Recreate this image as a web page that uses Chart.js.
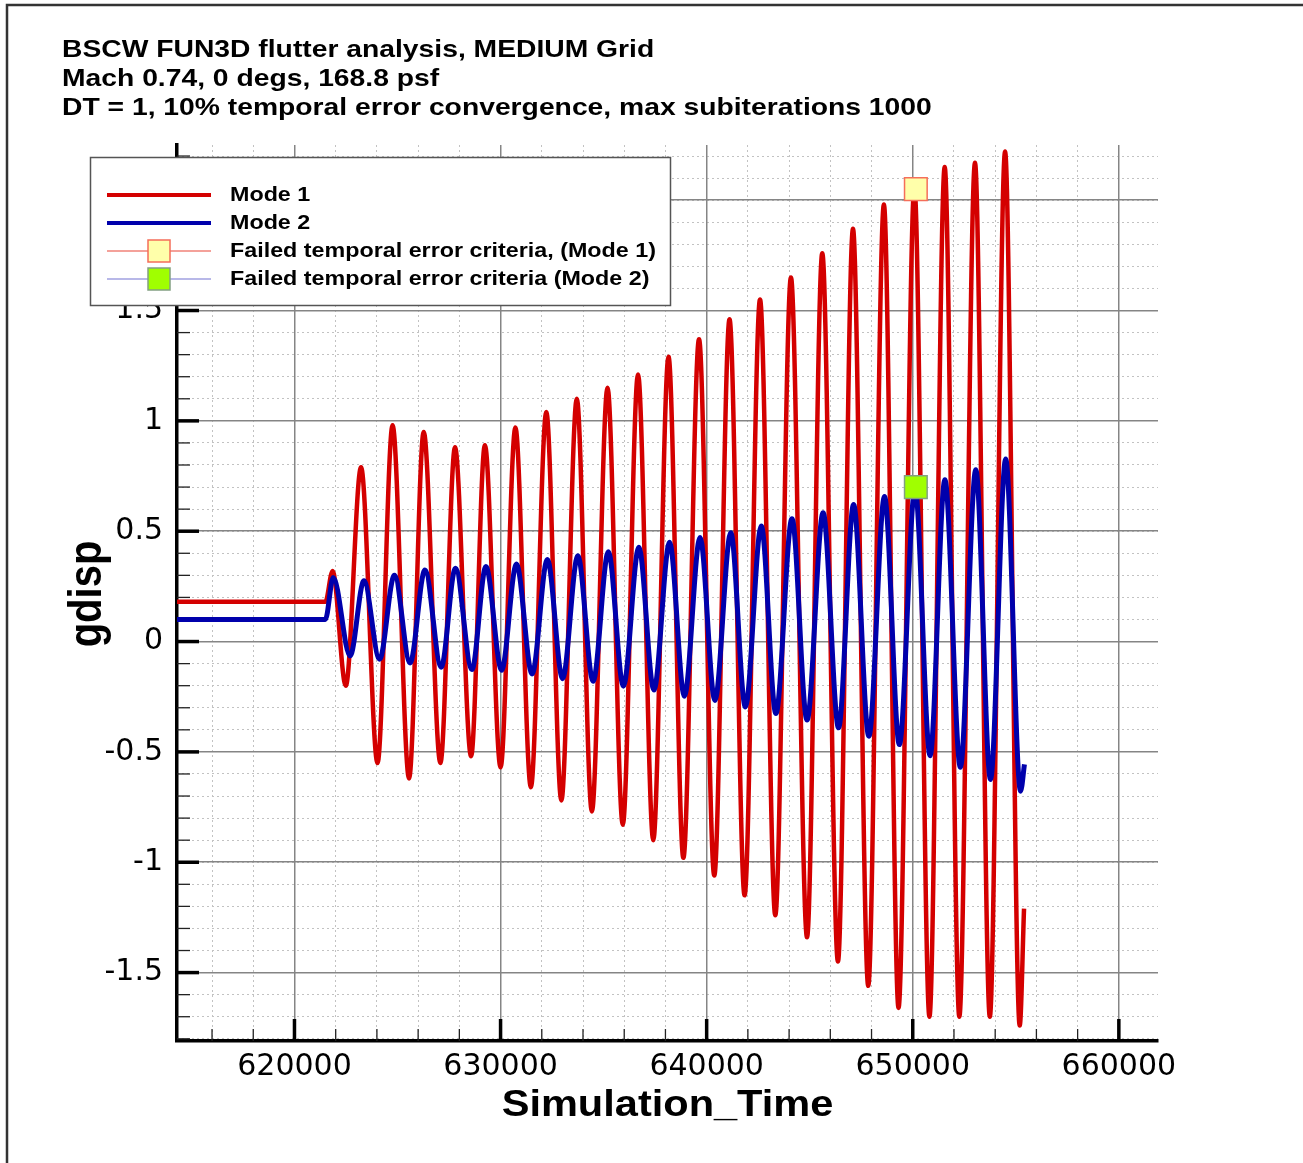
<!DOCTYPE html>
<html>
<head>
<meta charset="utf-8">
<script src="https://cdn.jsdelivr.net/npm/chart.js@4.4.1/dist/chart.umd.min.js"></script>
<style>
  html, body { margin: 0; padding: 0; background: #fff; }
  canvas { display: block; }
</style>
</head>
<body>
<canvas id="chart" width="1303" height="1163"></canvas>
<script>
const titleLines = [
    "BSCW FUN3D flutter analysis, MEDIUM Grid",
    "Mach 0.74, 0 degs, 168.8 psf",
    "DT = 1, 10% temporal error convergence, max subiterations 1000",
];
const seriesNames = ["Mode 1", "Mode 2", "Failed temporal error criteria, (Mode 1)", "Failed temporal error criteria (Mode 2)"];
const xTitle = "Simulation_Time";
const yTitle = "gdisp";

const xTicks = [620000, 630000, 640000, 650000, 660000];
const yTicks = [-1.5, -1, -0.5, 0, 0.5, 1, 1.5, 2];

// peaks and troughs of each mode
const mode1Time = [614300, 621500, 621850, 622490, 623230, 624030, 624760, 625560, 626270, 627080, 627790, 628570, 629240, 630000, 630720, 631470, 632220, 632950, 633700, 634430, 635190, 635930, 636670, 637410, 638150, 638870, 639630, 640370, 641110, 641840, 642590, 643330, 644090, 644870, 645610, 646370, 647100, 647840, 648600, 649310, 650080, 650810, 651550, 652260, 653020, 653740, 654480, 655190, 655400];
const mode1Disp = [0.18, 0.18, 0.32, -0.20, 0.79, -0.55, 0.98, -0.62, 0.95, -0.55, 0.88, -0.52, 0.89, -0.57, 0.97, -0.66, 1.04, -0.72, 1.10, -0.77, 1.15, -0.83, 1.21, -0.90, 1.29, -0.98, 1.37, -1.06, 1.46, -1.15, 1.55, -1.24, 1.65, -1.34, 1.76, -1.45, 1.87, -1.56, 1.98, -1.66, 2.06, -1.70, 2.15, -1.70, 2.17, -1.70, 2.22, -1.74, -1.21];

const mode2Time = [614300, 621500, 621880, 622700, 623370, 624130, 624850, 625610, 626330, 627120, 627810, 628610, 629290, 630050, 630770, 631530, 632270, 633010, 633750, 634490, 635230, 635960, 636710, 637440, 638200, 638920, 639680, 640400, 641170, 641880, 642650, 643360, 644140, 644870, 645650, 646400, 647130, 647870, 648630, 649350, 650110, 650840, 651560, 652310, 653060, 653770, 654510, 655230, 655420];
const mode2Disp = [0.10, 0.10, 0.29, -0.065, 0.275, -0.08, 0.30, -0.097, 0.324, -0.116, 0.332, -0.127, 0.34, -0.13, 0.351, -0.147, 0.372, -0.168, 0.389, -0.18, 0.407, -0.202, 0.427, -0.22, 0.45, -0.248, 0.472, -0.267, 0.493, -0.296, 0.524, -0.326, 0.557, -0.356, 0.584, -0.391, 0.621, -0.429, 0.657, -0.467, 0.695, -0.517, 0.733, -0.57, 0.779, -0.625, 0.827, -0.678, -0.557];

const failTime = [650150];
const failMode1 = [2.05];
const failMode2 = [0.70];

const X_MIN = 614300, X_MAX = 661900, Y_MIN = -1.81, Y_MAX = 2.25;
const RED = "rgb(212,0,0)";
const BLUE = "rgb(0,0,172)";
const SX = 1.154; // picture is stretched sideways

const pts = (xs, ys) => xs.map((x, i) => ({ x: x, y: ys[i] }));

function minorTicks(s, step) {
    const out = [];
    for (let k = Math.ceil(s.min / step - 1e-9); k * step <= s.max + 1e-9; k++) {
        out.push({ value: +(k * step).toFixed(6) });
    }
    s.ticks = out;
}

function wideText(ctx, text, x, y, align) {
    ctx.save();
    ctx.translate(x, y);
    ctx.scale(SX, 1);
    ctx.textAlign = align;
    ctx.fillText(text, 0, 0);
    ctx.restore();
}

function seg(ctx, x1, y1, x2, y2) {
    ctx.beginPath();
    ctx.moveTo(x1, y1);
    ctx.lineTo(x2, y2);
    ctx.stroke();
}

const decor = {
    id: "decor",
    beforeDatasetsDraw(chart) {
        const { ctx, chartArea: a, scales } = chart;
        ctx.save();
        // inward ticks
        ctx.strokeStyle = "#222";
        ctx.lineWidth = 1.3;
        scales.xm.ticks.forEach(t => {
            const px = scales.x.getPixelForValue(t.value);
            seg(ctx, px, a.bottom, px, a.bottom - 12);
        });
        scales.ym.ticks.forEach(t => {
            const py = scales.y.getPixelForValue(t.value);
            seg(ctx, a.left, py, a.left + 13, py);
        });
        ctx.strokeStyle = "#000";
        ctx.lineWidth = 3.5;
        xTicks.forEach(v => {
            const px = scales.x.getPixelForValue(v);
            seg(ctx, px, a.bottom, px, a.bottom - 22);
        });
        yTicks.forEach(v => {
            const py = scales.y.getPixelForValue(v);
            seg(ctx, a.left, py, a.left + 22, py);
        });
        ctx.restore();
    },
    afterDraw(chart) {
        const { ctx, chartArea: a } = chart;
        ctx.save();
        ctx.fillStyle = "#000";
        ctx.textBaseline = "alphabetic";

        // title block
        ctx.font = "bold 24.5px 'Liberation Sans', Arial, sans-serif";
        titleLines.forEach((t, i) => wideText(ctx, t, 62, 57 + i * 29, "left"));

        // axis titles
        ctx.font = "bold 36px 'Liberation Sans', Arial, sans-serif";
        wideText(ctx, xTitle, (a.left + a.right) / 2, 1116, "center");
        ctx.save();
        ctx.translate(88, 594);
        ctx.rotate(-Math.PI / 2);
        ctx.scale(1, SX);
        ctx.font = "bold 40px 'Liberation Sans', Arial, sans-serif";
        ctx.textAlign = "center";
        ctx.textBaseline = "middle";
        ctx.fillText(yTitle, 0, 0);
        ctx.restore();

        // legend box
        ctx.fillStyle = "#fff";
        ctx.fillRect(90, 157, 581, 148);
        ctx.strokeStyle = "#555";
        ctx.lineWidth = 1.5;
        ctx.strokeRect(90.5, 157.5, 580, 148);

        const rows = [195, 223, 251, 279];
        ctx.lineWidth = 4;
        ctx.strokeStyle = RED;
        seg(ctx, 107, rows[0], 211, rows[0]);
        ctx.strokeStyle = BLUE;
        seg(ctx, 107, rows[1], 211, rows[1]);
        ctx.lineWidth = 1.5;
        ctx.strokeStyle = "rgb(240,130,120)";
        seg(ctx, 107, rows[2], 211, rows[2]);
        ctx.strokeStyle = "rgb(160,160,225)";
        seg(ctx, 107, rows[3], 211, rows[3]);
        ctx.fillStyle = "rgb(255,255,170)";
        ctx.fillRect(148, rows[2] - 11, 22, 22);
        ctx.strokeStyle = "rgb(245,110,90)";
        ctx.strokeRect(148, rows[2] - 11, 22, 22);
        ctx.fillStyle = "rgb(160,255,0)";
        ctx.fillRect(148, rows[3] - 11, 22, 22);
        ctx.strokeStyle = "rgb(130,160,130)";
        ctx.strokeRect(148, rows[3] - 11, 22, 22);

        ctx.fillStyle = "#000";
        ctx.font = "bold 20.2px 'Liberation Sans', Arial, sans-serif";
        ctx.textBaseline = "middle";
        seriesNames.forEach((n, i) => wideText(ctx, n, 230, rows[i], "left"));

        // outer frame
        ctx.strokeStyle = "#333";
        ctx.lineWidth = 2.5;
        ctx.beginPath();
        ctx.moveTo(7, 1163);
        ctx.lineTo(7, 5);
        ctx.lineTo(1303, 5);
        ctx.stroke();
        ctx.restore();
    },
};

const minorAxis = (pos, step, horiz) => ({
    type: "linear",
    position: pos,
    min: horiz ? X_MIN : Y_MIN,
    max: horiz ? X_MAX : Y_MAX,
    ticks: { display: false },
    grid: { color: "#c2c2c2", lineWidth: 1, drawTicks: false, z: -2, borderDash: [2, 3] },
    border: { display: false, dash: [2, 3] },
    afterBuildTicks: s => minorTicks(s, step),
    afterFit: s => { if (horiz) s.height = 0; else s.width = 0; },
});

new Chart(document.getElementById("chart"), {
    type: "scatter",
    data: {
        datasets: [
            {
                label: seriesNames[2],
                data: pts(failTime, failMode1),
                pointStyle: "rect",
                pointRadius: 16,
                backgroundColor: "rgb(255,255,170)",
                borderColor: "rgb(245,110,90)",
                borderWidth: 1.5,
                order: 0,
            },
            {
                label: seriesNames[3],
                data: pts(failTime, failMode2),
                pointStyle: "rect",
                pointRadius: 16,
                backgroundColor: "rgb(160,255,0)",
                borderColor: "rgb(130,160,130)",
                borderWidth: 1.5,
                order: 0,
            },
            {
                label: seriesNames[1],
                data: pts(mode2Time, mode2Disp),
                showLine: true,
                borderColor: BLUE,
                borderWidth: 5,
                pointRadius: 0,
                cubicInterpolationMode: "monotone",
                order: 1,
            },
            {
                label: seriesNames[0],
                data: pts(mode1Time, mode1Disp),
                showLine: true,
                borderColor: RED,
                borderWidth: 4.5,
                pointRadius: 0,
                cubicInterpolationMode: "monotone",
                order: 2,
            },
        ],
    },
    options: {
        responsive: false,
        animation: false,
        devicePixelRatio: 1,
        layout: { padding: { top: 145, right: 145, left: 0, bottom: 0 } },
        plugins: { legend: { display: false }, tooltip: { enabled: false }, title: { display: false } },
        scales: {
            xm: minorAxis("bottom", 2000, true),
            ym: minorAxis("left", 0.1, false),
            x: {
                type: "linear",
                position: "bottom",
                min: X_MIN,
                max: X_MAX,
                afterBuildTicks: s => { s.ticks = xTicks.map(v => ({ value: v })); },
                ticks: {
                    callback: v => String(v),
                    font: { family: "DejaVu Sans", size: 30 },
                    color: "#000",
                    padding: 8,
                    maxRotation: 0,
                    autoSkip: false,
                },
                grid: { color: "#858585", lineWidth: 1.5, drawTicks: false, z: -1 },
                border: { color: "#000", width: 3.5 },
                afterFit: s => { s.height = 122; },
            },
            y: {
                type: "linear",
                position: "left",
                min: Y_MIN,
                max: Y_MAX,
                afterBuildTicks: s => { s.ticks = yTicks.map(v => ({ value: v })); },
                ticks: {
                    callback: v => String(v),
                    font: { family: "DejaVu Sans", size: 30 },
                    color: "#000",
                    padding: 14,
                    autoSkip: false,
                },
                grid: { color: "#858585", lineWidth: 1.5, drawTicks: false, z: -1 },
                border: { color: "#000", width: 3.5 },
                afterFit: s => { s.width = 177; },
            },
        },
    },
    plugins: [decor],
});
</script>
</body>
</html>
